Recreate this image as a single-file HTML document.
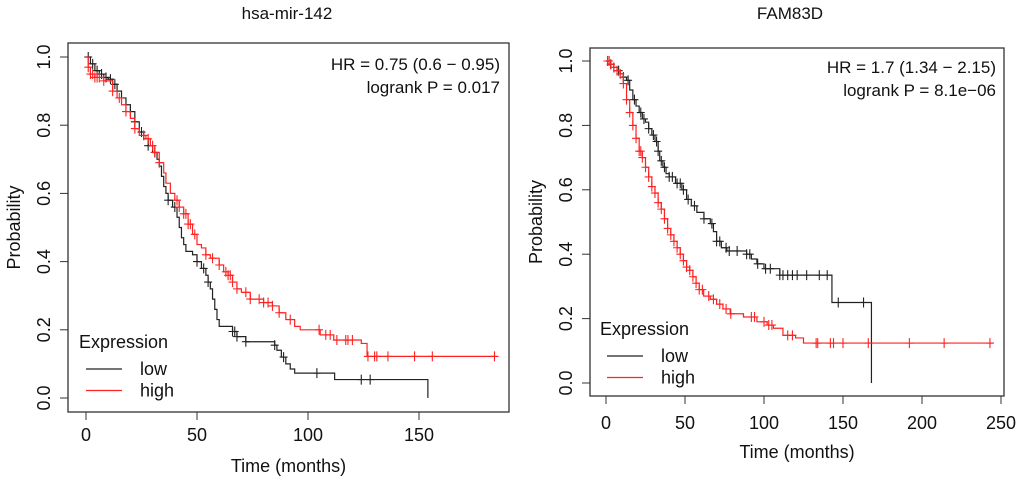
<!DOCTYPE html>
<html><head><meta charset="utf-8"><style>
body{margin:0;background:#fff}
svg{display:block;font-family:"Liberation Sans",Arial,sans-serif}
</style></head><body>
<svg id="chart" width="1020" height="481" viewBox="0 0 1020 481" xmlns="http://www.w3.org/2000/svg">
<g id="p1"></g>
<g id="p2"></g>
</svg>
<script>
// Panel 1: hsa-mir-142
const p1LowT = [0,2,4,6,8,10,12,14,16,18,20,22,24,26,28,30,32,33,34,35,36,37,39,41,42,43,44,45,48,50,52,54,55,56,57,58,59,60,66,68,72,85,86,88,90,92,94,112,154];
const p1LowS = [1.0,0.98,0.96,0.95,0.94,0.935,0.92,0.9,0.88,0.86,0.84,0.81,0.78,0.76,0.74,0.72,0.7,0.68,0.65,0.62,0.6,0.58,0.56,0.53,0.5,0.47,0.45,0.43,0.42,0.4,0.38,0.36,0.34,0.32,0.29,0.26,0.23,0.21,0.195,0.18,0.165,0.155,0.14,0.12,0.1,0.085,0.073,0.054,0.0];
const p1HighT = [0,1,2,4,8,12,14,16,18,20,22,24,27,29,31,33,35,36,38,40,42,44,46,48,50,52,54,56,60,62,64,66,68,70,74,80,84,87,90,94,96.5,105.5,111.6,124,126.6];
const p1HighS = [1.0,0.97,0.95,0.94,0.93,0.9,0.88,0.86,0.84,0.82,0.79,0.77,0.76,0.74,0.72,0.69,0.66,0.63,0.6,0.58,0.56,0.54,0.51,0.48,0.45,0.44,0.42,0.41,0.39,0.37,0.36,0.34,0.32,0.31,0.29,0.28,0.27,0.25,0.23,0.21,0.2,0.185,0.17,0.16,0.122];
const p1HighEnd = 185;
const p1LowCens = [1,3,5,7,9,11,13,20,22,25,28,31,37,40,50,53,55,66,67,68,72,85,89,104,124,128];
const p1HighCens = [1,2,3,4,5,6,8,12,15,18,22,26,28,30,31,33,41,42,44,45,46,47,49,54,57,60,63,64,65,66,68,72,74,78,80,82,84,87,92,105,108,110,113,117,118,120,127,130,131,136,148,156,184];
const p1XTicks = [0,50,100,150];
const p1YTicks = [0,0.2,0.4,0.6,0.8,1.0];
// Panel 2: FAM83D
const p2LowT = [0,3,5,7,9,11,13,15,17,19,21,23,25,27,29,31,33,34,36,38,40,44,48,51,54,57.5,62,66,68,70,73,76.5,89,92,95.5,100,110,143,168];
const p2LowS = [1.0,0.99,0.98,0.97,0.96,0.95,0.94,0.91,0.88,0.86,0.84,0.82,0.81,0.79,0.77,0.75,0.72,0.69,0.67,0.65,0.64,0.62,0.6,0.57,0.55,0.53,0.51,0.495,0.47,0.44,0.42,0.41,0.4,0.385,0.37,0.355,0.335,0.25,0.0];
const p2HighT = [0,3,5,7,9,11,13,15,17,19,21,23,25,27,29,31,33,35,37,39,41,43,45,47,49,51,53,55,57,59,61.8,66,70,74,78.6,87,95.5,102,106,112,120,125];
const p2HighS = [1.0,0.99,0.98,0.97,0.96,0.93,0.88,0.84,0.8,0.76,0.72,0.7,0.67,0.64,0.61,0.59,0.56,0.54,0.51,0.48,0.46,0.44,0.42,0.4,0.38,0.36,0.35,0.33,0.31,0.29,0.27,0.26,0.245,0.23,0.215,0.205,0.19,0.18,0.17,0.148,0.14,0.124];
const p2HighEnd = 245;
const p2LowCens = [1,3,5,8,11,14,18,22,24,27,30,32,33,35,37,40,42,45,47,49,52,56,62,67,70,72,76,78,83,89,91,96,101,104,110,112,115,118,121,127,135,140,147,163];
const p2HighCens = [1,2,3,5,7,9,11,13,15,17,19,21,22,23,25,27,29,31,33,35,37,39,41,43,45,47,49,51,53,55,57,59,61,65,68,72,76,79,92,94,100,103,105,115,118,133,134,142,144,150,166,192,214,243];
const p2XTicks = [0,50,100,150,200,250];
const p2YTicks = [0,0.2,0.4,0.6,0.8,1.0];

const NS='http://www.w3.org/2000/svg';
function mk(parent,tag,attrs,text){const e=document.createElementNS(NS,tag);for(const k in attrs)e.setAttribute(k,attrs[k]);if(text!==undefined)e.textContent=text;parent.appendChild(e);return e;}
function survAt(T,S,t){let s=S[0];for(let i=0;i<T.length;i++){if(T[i]<=t)s=S[i];}return s;}

function panel(g,c){
  const x=t=>c.x0+(t-0)*c.xs, y=p=>c.y0-p*c.ys;
  const box=mk(g,'rect',{x:c.bx,y:c.by,width:c.bw,height:c.bh,fill:'none',stroke:'#333','stroke-width':1.3});
  
  
  const t=mk(g,'text',{x:c.titleX,y:19,'text-anchor':'middle','font-size':17,fill:'#111'},c.title);
  
  
  const xa=mk(g,'g',{});
  
  
  const xt=c.xTicks;
  mk(xa,'line',{x1:x(xt[0]),x2:x(xt[xt.length-1]),y1:c.by+c.bh,y2:c.by+c.bh,stroke:'#333','stroke-width':1});
  xt.forEach(v=>{mk(xa,'line',{x1:x(v),x2:x(v),y1:c.by+c.bh,y2:c.by+c.bh+8,stroke:'#333'});
    const l=mk(xa,'text',{x:x(v),y:c.xLabY,'text-anchor':'middle','font-size':18,fill:'#111'},String(v));
    
    });
  const xl=mk(g,'text',{x:(c.bx+c.bw/2),y:c.xTitleY,'text-anchor':'middle','font-size':18,fill:'#111'},'Time (months)');
  
  
  const ya=mk(g,'g',{});
  
  
  c.yTicks.forEach(v=>{mk(ya,'line',{x1:c.bx,x2:c.bx-8,y1:y(v),y2:y(v),stroke:'#333'});
    const l=mk(ya,'text',{x:c.bx-18,y:y(v),'text-anchor':'middle','font-size':18,fill:'#111',transform:`rotate(-90 ${c.bx-18} ${y(v)})`},v.toFixed(1));
    
    });
  const yl=mk(g,'text',{x:c.yTitleX,y:(y(0)+y(1))/2,'text-anchor':'middle','font-size':18,fill:'#111',transform:`rotate(-90 ${c.yTitleX} ${(y(0)+y(1))/2})`},'Probability');
  
  
  function curve(T,S,end,cens,col,name){
    let d=`M${x(T[0])},${y(S[0])}`;
    for(let i=1;i<T.length;i++){d+=`H${x(T[i])}V${y(S[i])}`;}
    if(end!==null)d+=`H${x(end)}`;
    const p=mk(g,'path',{d:d,fill:'none',stroke:col,'stroke-width':1.2});
    
    
    cens.forEach(ct=>{const s=survAt(T,S,ct);const cx=x(ct),cy=y(s);
      const m=mk(g,'path',{d:`M${cx-4},${cy}H${cx+4}M${cx},${cy-5}V${cy+5}`,stroke:col,'stroke-width':1.1});
      
      });
  }
  curve(c.lowT,c.lowS,null,c.lowCens,'#222','low');
  curve(c.highT,c.highS,c.highEnd,c.highCens,'#f22','high');
  const st=mk(g,'text',{'font-size':17,fill:'#111','text-anchor':'end'});
  
  
  mk(st,'tspan',{x:c.statX,y:c.statY},c.hr);
  mk(st,'tspan',{x:c.statX,y:c.statY+23},c.lp);
  const lg=mk(g,'g',{});
  
  
  mk(lg,'text',{x:c.legX,y:c.legY,'font-size':18,fill:'#111'},'Expression');
  [['low','#222'],['high','#f22']].forEach((e,i)=>{const ly=c.legY+21+i*21.5;
    const le=mk(lg,'g',{});
    
    
    mk(le,'line',{x1:c.legX+7,x2:c.legX+43,y1:ly,y2:ly,stroke:e[1],'stroke-width':1.2});
    mk(le,'text',{x:c.legX+61,y:ly+6,'font-size':18,fill:'#111'},e[0]);});
}

panel(document.getElementById('p1'),{title:'hsa-mir-142',titleX:287,bx:68,by:43,bw:441,bh:369,x0:86,xs:2.22,y0:398,ys:341,
  xTicks:p1XTicks,yTicks:p1YTicks,xLabY:441,xTitleY:472,yTitleX:20,
  lowT:p1LowT,lowS:p1LowS,highT:p1HighT,highS:p1HighS,highEnd:p1HighEnd,lowCens:p1LowCens,highCens:p1HighCens,
  hr:'HR = 0.75 (0.6 − 0.95)',lp:'logrank P = 0.017',statX:500,statY:70,legX:79,legY:348});
panel(document.getElementById('p2'),{title:'FAM83D',titleX:790,bx:590,by:48,bw:414,bh:348,x0:606,xs:1.58,y0:383,ys:322,
  xTicks:p2XTicks,yTicks:p2YTicks,xLabY:429,xTitleY:458,yTitleX:542,
  lowT:p2LowT,lowS:p2LowS,highT:p2HighT,highS:p2HighS,highEnd:p2HighEnd,lowCens:p2LowCens,highCens:p2HighCens,
  hr:'HR = 1.7 (1.34 − 2.15)',lp:'logrank P = 8.1e−06',statX:996,statY:73,legX:600,legY:335});
</script>
</body></html>
